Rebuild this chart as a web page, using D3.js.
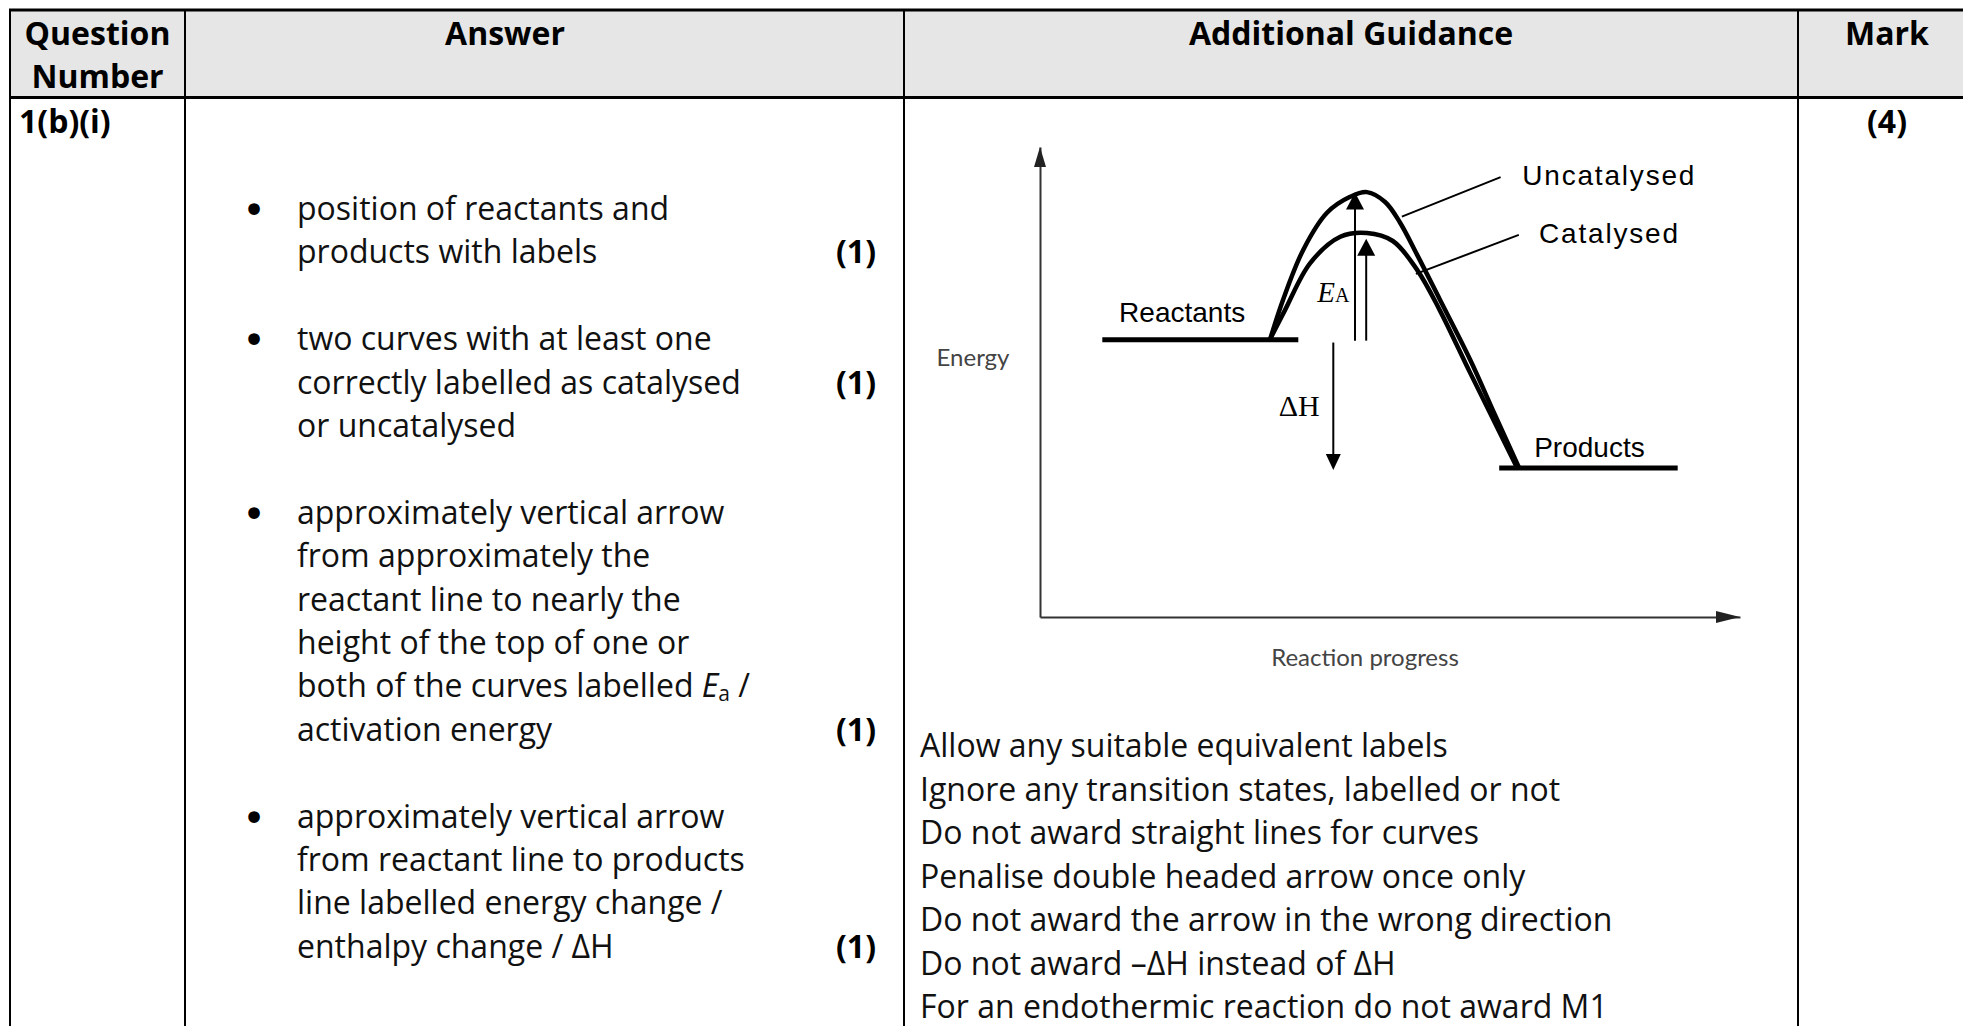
<!DOCTYPE html>
<html>
<head>
<meta charset="utf-8">
<script src="https://cdn.jsdelivr.net/npm/d3@7"></script>
<style>
body { margin: 0; background: #fff; }
svg { display: block; }
</style>
</head>
<body>
<svg id="chart" width="1963" height="1026"></svg>
<script>
// ---- table text ----
var headerCells = [["Question", "Number"], ["Answer"], ["Additional Guidance"], ["Mark"]];
var questionNumber = "1(b)(i)";
var totalMark = "(4)";
var bulletLines = [
    ["position of reactants and", "products with labels"],
    ["two curves with at least one", "correctly labelled as catalysed", "or uncatalysed"],
    ["approximately vertical arrow", "from approximately the", "reactant line to nearly the",
     "height of the top of one or", "both of the curves labelled <i>E</i><sub>a</sub> /", "activation energy"],
    ["approximately vertical arrow", "from reactant line to products", "line labelled energy change /",
     "enthalpy change / \u0394H"]
];
var bulletMarks = ["(1)", "(1)", "(1)", "(1)"];
var bulletMarkLine = [1, 1, 5, 3];
var guidanceLines = [
    "Allow any suitable equivalent labels",
    "Ignore any transition states, labelled or not",
    "Do not award straight lines for curves",
    "Penalise double headed arrow once only",
    "Do not award the arrow in the wrong direction",
    "Do not award \u2013\u0394H instead of \u0394H",
    "For an endothermic reaction do not award M1"
];

// ---- energy profile, in plot units (progress 0-100, energy 0-100) ----
var reactantLevel = 59.0;
var reactantSpan = [8.9, 36.9];
var productLevel = 31.7;
var productSpan = [65.6, 91.1];
var uncatalysed = [[32.9, 59.2], [34.7, 67.4], [37.6, 78.1], [41.0, 86.0], [44.3, 89.4], [46.7, 90.4],
    [49.3, 88.3], [51.4, 84.0], [53.9, 77.0], [57.1, 67.6], [61.4, 54.9], [65.0, 43.0], [68.4, 31.9]];
var catalysed = [[32.9, 59.2], [35.0, 65.3], [38.6, 75.3], [42.9, 80.9], [46.7, 81.7], [50.4, 80.0],
    [53.9, 73.8], [57.1, 65.3], [61.4, 52.1], [65.0, 41.3], [68.1, 31.9]];
var eaArrows = [{x: 45.0, from: 58.8, to: 90.3}, {x: 46.6, from: 58.8, to: 80.5}];
var dhArrow = {x: 41.9, from: 58.4, to: 31.3};
var curveNames = ["Uncatalysed", "Catalysed"];
var leaderLines = [[[51.7, 85.2], [65.8, 93.6]], [[53.7, 73.0], [68.4, 81.3]]];
var axisNames = ["Energy", "Reaction progress"];
var levelNames = ["Reactants", "Products"];

var svg = d3.select('#chart');
var W = 1963, H = 1026;
var colX = [10, 185, 904, 1798];
var tableTop = 10, headBottom = 97.5;
var lineH = 43.4;
var bodyFont = "'Open Sans', sans-serif";

// header background
svg.append('rect').attr('x', colX[0]).attr('y', tableTop).attr('width', W - colX[0]).attr('height', headBottom - tableTop)
    .attr('fill', '#e6e6e6');

var headerX = [97.5, 505, 1351, 1887];
headerCells.forEach(function(lines, i) {
    lines.forEach(function(t, j) {
        svg.append('text').attr('x', headerX[i]).attr('y', 45 + j * 43)
            .attr('text-anchor', 'middle').attr('font-family', bodyFont).attr('font-weight', 700)
            .attr('font-size', 32).text(t);
    });
});

svg.append('text').attr('x', 19).attr('y', 133).attr('font-family', bodyFont).attr('font-weight', 700)
    .attr('font-size', 32).text(questionNumber);
svg.append('text').attr('x', 1887).attr('y', 133).attr('text-anchor', 'middle').attr('font-family', bodyFont)
    .attr('font-weight', 700).attr('font-size', 32).text(totalMark);

// rich line: <i>..</i> italic, <sub>..</sub> subscript
var addRich = function(sel, str) {
    var parts = str.split(/(<i>.*?<\/i>|<sub>.*?<\/sub>)/);
    var shift = 0;
    parts.forEach(function(p) {
        if (!p) return;
        var m, ts;
        if ((m = p.match(/^<i>(.*)<\/i>$/))) {
            ts = sel.append('tspan').attr('font-style', 'italic').text(m[1]);
            if (shift) { ts.attr('dy', -shift); shift = 0; }
        } else if ((m = p.match(/^<sub>(.*)<\/sub>$/))) {
            sel.append('tspan').attr('font-size', 21).attr('dy', 4).text(m[1]);
            shift = 4;
        } else {
            ts = sel.append('tspan').text(p);
            if (shift) { ts.attr('dy', -shift); shift = 0; }
        }
    });
};

// answer bullets
var row = 0;
bulletLines.forEach(function(lines, b) {
    var y0 = 220 + row * lineH;
    svg.append('text').attr('x', 254).attr('y', y0 + 4).attr('text-anchor', 'middle')
        .attr('font-family', "'DejaVu Sans', sans-serif").attr('font-size', 40).text('\u2022');
    lines.forEach(function(t, j) {
        var tx = svg.append('text').attr('x', 297).attr('y', y0 + j * lineH)
            .attr('font-family', bodyFont).attr('font-size', 32).attr('fill', '#111');
        addRich(tx, t);
    });
    svg.append('text').attr('x', 876).attr('y', y0 + bulletMarkLine[b] * lineH).attr('text-anchor', 'end')
        .attr('font-family', bodyFont).attr('font-weight', 700).attr('font-size', 32).text(bulletMarks[b]);
    row += lines.length + 1;
});

// guidance
guidanceLines.forEach(function(t, j) {
    svg.append('text').attr('x', 920).attr('y', 757 + j * 43.5)
        .attr('font-family', bodyFont).attr('font-size', 32).attr('fill', '#111').text(t);
});

// ---- diagram ----
var x = d3.scaleLinear().domain([0, 100]).range([1040, 1740]);
var y = d3.scaleLinear().domain([0, 100]).range([617, 147]);
var g = svg.append('g');

var tri = function(px, py, dir, w, h) {
    if (dir === 'up') return 'M' + px + ',' + py + 'L' + (px - w / 2) + ',' + (py + h) + 'L' + (px + w / 2) + ',' + (py + h) + 'Z';
    if (dir === 'down') return 'M' + px + ',' + py + 'L' + (px - w / 2) + ',' + (py - h) + 'L' + (px + w / 2) + ',' + (py - h) + 'Z';
    return 'M' + px + ',' + py + 'L' + (px - h) + ',' + (py - w / 2) + 'L' + (px - h) + ',' + (py + w / 2) + 'Z';
};

// axes
g.append('g').attr('transform', 'translate(' + x(0) + ',0)')
    .call(d3.axisLeft(y).ticks(0).tickSizeOuter(0));
g.append('g').attr('transform', 'translate(0,' + y(0) + ')')
    .call(d3.axisBottom(x).ticks(0).tickSizeOuter(0));
g.selectAll('.domain').attr('stroke', '#333').attr('stroke-width', 2);
g.append('path').attr('d', tri(x(0), y(100), 'up', 12, 20)).attr('fill', '#222');
g.append('path').attr('d', tri(x(100), y(0), 'right', 12, 24)).attr('fill', '#222');

g.append('text').attr('x', 973).attr('y', 366).attr('text-anchor', 'middle').attr('font-family', 'Lato, sans-serif')
    .attr('font-size', 24).attr('fill', '#444').text(axisNames[0]);
g.append('text').attr('x', 1365).attr('y', 666).attr('text-anchor', 'middle').attr('font-family', 'Lato, sans-serif')
    .attr('font-size', 24).attr('fill', '#444').text(axisNames[1]);

// levels
g.append('line').attr('x1', x(reactantSpan[0])).attr('x2', x(reactantSpan[1]))
    .attr('y1', y(reactantLevel)).attr('y2', y(reactantLevel)).attr('stroke', '#000').attr('stroke-width', 5);
g.append('line').attr('x1', x(productSpan[0])).attr('x2', x(productSpan[1]))
    .attr('y1', y(productLevel)).attr('y2', y(productLevel)).attr('stroke', '#000').attr('stroke-width', 5);

// curves
var line = d3.line().x(function(d) { return x(d[0]); }).y(function(d) { return y(d[1]); })
    .curve(d3.curveCatmullRom.alpha(0.5));
[uncatalysed, catalysed].forEach(function(pts) {
    g.append('path').attr('d', line(pts)).attr('fill', 'none').attr('stroke', '#000').attr('stroke-width', 4.5);
});

// leaders
leaderLines.forEach(function(l) {
    g.append('line').attr('x1', x(l[0][0])).attr('y1', y(l[0][1])).attr('x2', x(l[1][0])).attr('y2', y(l[1][1]))
        .attr('stroke', '#000').attr('stroke-width', 2);
});

// Ea arrows
eaArrows.forEach(function(a) {
    g.append('line').attr('x1', x(a.x)).attr('x2', x(a.x)).attr('y1', y(a.from)).attr('y2', y(a.to) + 10)
        .attr('stroke', '#000').attr('stroke-width', 2);
    g.append('path').attr('d', tri(x(a.x), y(a.to), 'up', 18, 17)).attr('fill', '#000');
});
// dH arrow
g.append('line').attr('x1', x(dhArrow.x)).attr('x2', x(dhArrow.x)).attr('y1', y(dhArrow.from)).attr('y2', y(dhArrow.to) - 10)
    .attr('stroke', '#000').attr('stroke-width', 2);
g.append('path').attr('d', tri(x(dhArrow.x), y(dhArrow.to), 'down', 15, 16)).attr('fill', '#000');

// labels
var sans = "'Liberation Sans', Arial, sans-serif";
g.append('text').attr('x', x(11.3)).attr('y', y(62.8)).attr('font-family', sans).attr('font-size', 28).text(levelNames[0]);
g.append('text').attr('x', x(70.6)).attr('y', y(34.0)).attr('font-family', sans).attr('font-size', 28).text(levelNames[1]);
g.append('text').attr('x', x(68.9)).attr('y', y(91.9)).attr('font-family', sans).attr('font-size', 28)
    .attr('letter-spacing', 1.8).text(curveNames[0]);
g.append('text').attr('x', x(71.3)).attr('y', y(79.6)).attr('font-family', sans).attr('font-size', 28)
    .attr('letter-spacing', 1.8).text(curveNames[1]);

var serif = "'Liberation Serif', 'Times New Roman', serif";
g.append('text').attr('x', x(34.1)).attr('y', y(42.8)).attr('font-family', serif).attr('font-size', 30).text('\u0394H');
var ea = g.append('text').attr('x', x(39.6)).attr('y', y(67.0)).attr('font-family', serif).attr('font-size', 29);
ea.append('tspan').attr('font-style', 'italic').text('E');
ea.append('tspan').attr('font-size', 20).text('A');

// table rules
var rules = svg.append('g').attr('stroke', '#000');
rules.append('line').attr('x1', colX[0] - 1).attr('x2', W).attr('y1', tableTop).attr('y2', tableTop).attr('stroke-width', 3);
rules.append('line').attr('x1', colX[0] - 1).attr('x2', W).attr('y1', headBottom).attr('y2', headBottom).attr('stroke-width', 3);
colX.forEach(function(cx) {
    rules.append('line').attr('x1', cx).attr('x2', cx).attr('y1', tableTop).attr('y2', H).attr('stroke-width', 2);
});
</script>
</body>
</html>
